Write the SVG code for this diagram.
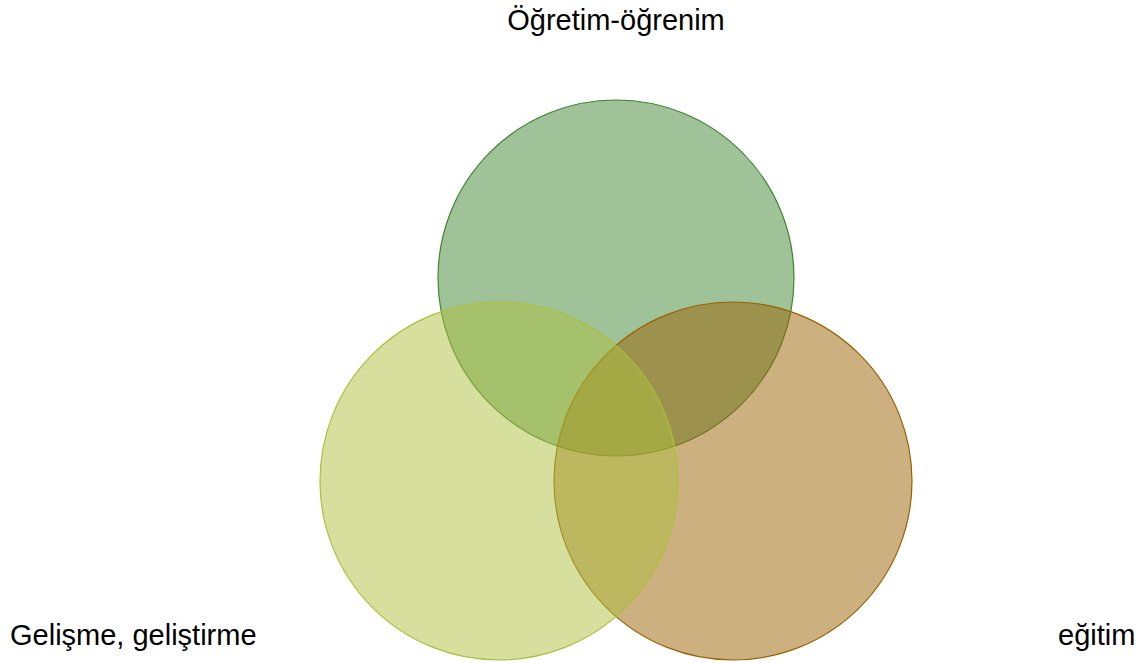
<svg xmlns="http://www.w3.org/2000/svg" width="1140" height="663" viewBox="0 0 1140 663">
<style>
.c{stroke-width:1.2}
.t{font-family:"Liberation Sans",Arial,sans-serif;font-size:29px;fill:#000}
</style>
<rect width="1140" height="663" fill="#fff"/>
<g id="node-top"><circle class="c" cx="616" cy="278" r="178" fill="#3f8531" fill-opacity="0.5" stroke="#3f8531"/></g>
<g id="node-right"><circle class="c" cx="733" cy="481" r="179" fill="#996101" fill-opacity="0.5" stroke="#996101"/></g>
<g id="node-left"><circle class="c" cx="499" cy="481" r="179" fill="#adbf3d" fill-opacity="0.5" stroke="#adbf3d"/></g>
<g id="connectors"></g>
<g id="labels">
<text class="t" x="616" y="30" text-anchor="middle">Öğretim-öğrenim</text>
<text class="t" x="10" y="645">Gelişme, geliştirme</text>
<text class="t" x="1058" y="645">eğitim</text>
</g>
</svg>
